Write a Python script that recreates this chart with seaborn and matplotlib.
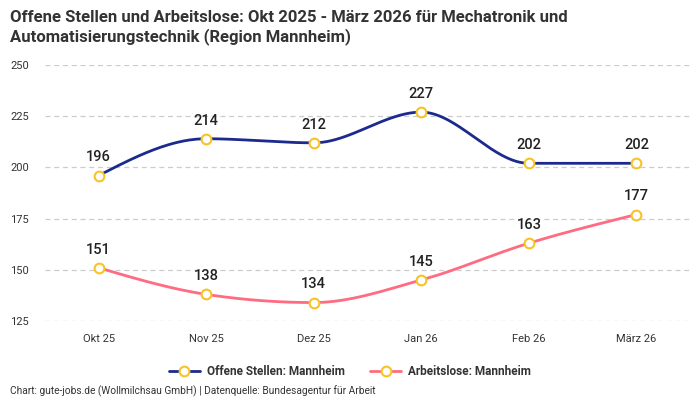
import numpy as np
import matplotlib
matplotlib.use("Agg")
import matplotlib.pyplot as plt
import seaborn as sns

months = ["Okt 25", "Nov 25", "Dez 25", "Jan 26", "Feb 26", "März 26"]
offene_stellen = [196, 214, 212, 227, 202, 202]
arbeitslose = [151, 138, 134, 145, 163, 177]
y_ticks = [125, 150, 175, 200, 225, 250]

BLUE = "#1b2a8c"
PINK = "#ff6b81"
GOLD = "#f7c325"


def monotone(x, y, n=60):
    # monotone cubic curve (like d3 curveMonotoneX) for drawing the line only
    x = np.asarray(x, float)
    y = np.asarray(y, float)
    h = np.diff(x)
    delta = np.diff(y) / h
    d = np.zeros_like(y)
    for k in range(1, len(y) - 1):
        if delta[k - 1] * delta[k] <= 0:
            d[k] = 0
        else:
            p = (delta[k - 1] * h[k] + delta[k] * h[k - 1]) / (h[k - 1] + h[k])
            d[k] = (np.sign(delta[k - 1]) + np.sign(delta[k])) * min(
                abs(delta[k - 1]), abs(delta[k]), 0.5 * abs(p))
    d[0] = (3 * delta[0] - d[1]) / 2
    d[-1] = (3 * delta[-1] - d[-2]) / 2
    xs, ys = [], []
    for k in range(len(h)):
        t = np.linspace(0, 1, n)
        h00 = 2 * t**3 - 3 * t**2 + 1
        h10 = t**3 - 2 * t**2 + t
        h01 = -2 * t**3 + 3 * t**2
        h11 = t**3 - t**2
        xs.append(x[k] + t * h[k])
        ys.append(h00 * y[k] + h10 * h[k] * d[k] + h01 * y[k + 1] + h11 * h[k] * d[k + 1])
    return np.concatenate(xs), np.concatenate(ys)


sns.set_theme(style="white")
plt.rcParams["font.family"] = ["Roboto", "DejaVu Sans"]

fig = plt.figure(figsize=(7, 4), dpi=100)
ax = fig.add_axes([0.064, 0.1975, 0.922, 0.64])

pos = np.arange(len(months))
series = [
    ("Offene Stellen: Mannheim", offene_stellen, BLUE),
    ("Arbeitslose: Mannheim", arbeitslose, PINK),
]
handles = []
for name, vals, col in series:
    xs, ys = monotone(pos, vals)
    sns.lineplot(x=xs, y=ys, ax=ax, color=col, linewidth=2, sort=False, zorder=3)
    ax.plot(pos, vals, "o", markersize=7, markerfacecolor="white",
            markeredgecolor=GOLD, markeredgewidth=1.5, zorder=4, clip_on=False)
    for xi, v in zip(pos, vals):
        ax.annotate(str(v), (xi, v), xytext=(0, 8), textcoords="offset points",
                    ha="center", va="bottom", fontsize=10.5, fontweight="medium",
                    color="#222222", zorder=5)
    handles.append(plt.Line2D([], [], color=col, linewidth=2, marker="o",
                              markersize=7, markerfacecolor="white",
                              markeredgecolor=GOLD, markeredgewidth=1.5))

ax.set_xlim(-0.5, len(months) - 0.5)
ax.set_ylim(125, 250)
ax.set_xticks(pos)
ax.set_xticklabels(months)
ax.set_yticks(y_ticks)
ax.grid(axis="y", color="#cccccc", linestyle=(0, (4, 3)), linewidth=0.9)
ax.grid(axis="x", visible=False)
for s in ax.spines.values():
    s.set_visible(False)
ax.tick_params(axis="x", length=0, pad=9, labelsize=8, colors="#333333")
ax.tick_params(axis="y", length=0, pad=25, labelsize=8, colors="#333333")
for lab in ax.get_yticklabels():
    lab.set_horizontalalignment("left")
ax.set_xlabel("")
ax.set_ylabel("")

fig.text(0.014, 0.975, "Offene Stellen und Arbeitslose: Okt 2025 - März 2026 für Mechatronik und\n"
         "Automatisierungstechnik (Region Mannheim)", ha="left", va="top",
         fontsize=12, fontweight="bold", color="#333333", linespacing=1.2)

fig.legend(handles, [s[0] for s in series], loc="center", bbox_to_anchor=(0.5, 0.072),
           ncol=2, frameon=False, prop={"size": 8.5, "weight": "bold"},
           handlelength=2.6, columnspacing=2.2, handletextpad=0.6, labelcolor="#333333")

fig.text(0.014, 0.008, "Chart: gute-jobs.de (Wollmilchsau GmbH) | Datenquelle: Bundesagentur für Arbeit",
         ha="left", va="bottom", fontsize=7.3, color="#333333")

fig.savefig("out.png", dpi=100)
